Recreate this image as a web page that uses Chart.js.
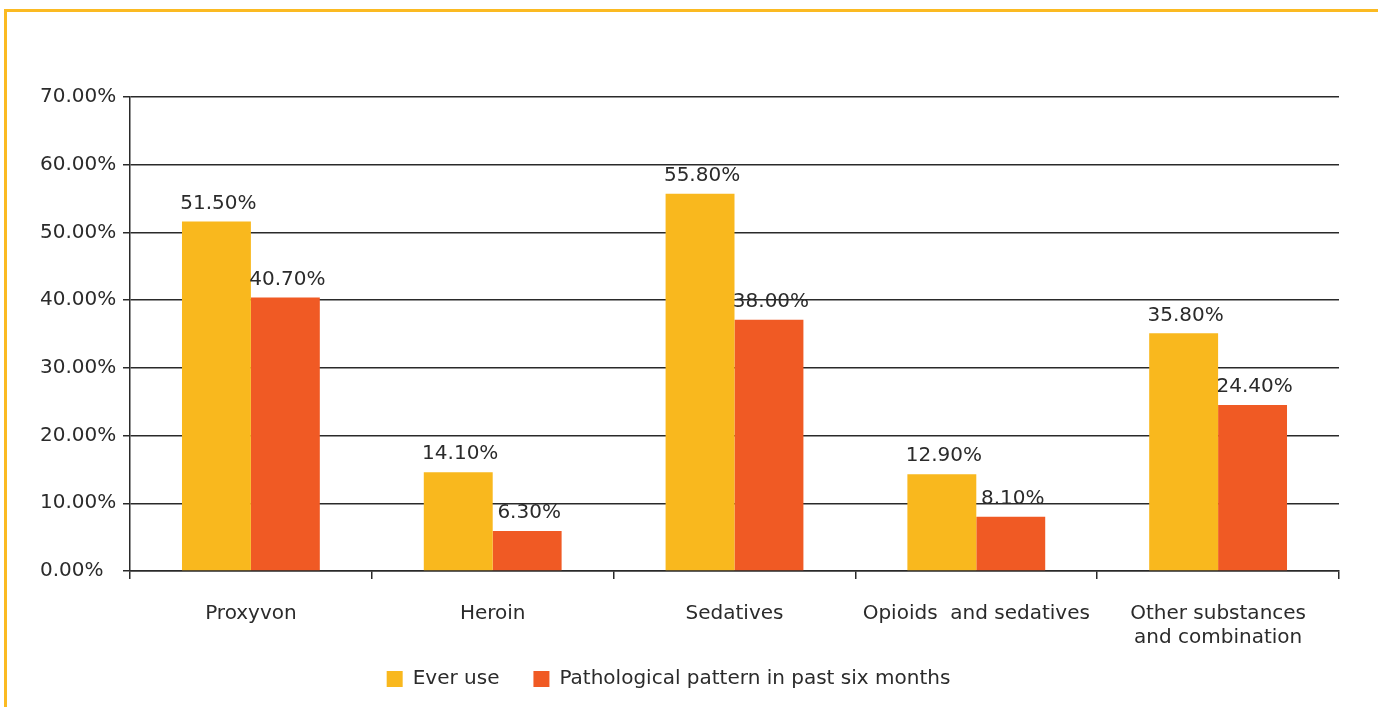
<!DOCTYPE html>
<html>
<head>
<meta charset="utf-8">
<script src="https://cdn.jsdelivr.net/npm/chart.js@4/dist/chart.umd.min.js"></script>
<style>
  html, body { margin: 0; padding: 0; background: #fff; width: 1378px; height: 707px; overflow: hidden; }
  #frame { position: absolute; left: 4px; top: 9px; width: 1400px; height: 720px; border-top: 3px solid #FBBA22; border-left: 3px solid #FBBA22; }
  #c { position: absolute; left: 0; top: 0; }
</style>
</head>
<body>
<div id="frame"></div>
<canvas id="c" width="1340" height="707"></canvas>
<script>
const categories = ['Proxyvon', 'Heroin', 'Sedatives', 'Opioids  and sedatives', ['Other substances', 'and combination']];
const seriesNames = ['Ever use', 'Pathological pattern in past six months'];
const everUse = [51.6, 14.6, 55.7, 14.3, 35.1];
const pathological = [40.4, 5.9, 37.1, 8.0, 24.5];
const everUseLabels = ['51.50%', '14.10%', '55.80%', '12.90%', '35.80%'];
const pathologicalLabels = ['40.70%', '6.30%', '38.00%', '8.10%', '24.40%'];
const yTicks = [0, 10, 20, 30, 40, 50, 60, 70];

const FONT = 'DejaVu Sans';
const FS = 20;

const valueLabels = {
  id: 'valueLabels',
  afterDatasetsDraw(chart) {
    const ctx = chart.ctx;
    ctx.save();
    ctx.font = FS + 'px "' + FONT + '"';
    ctx.fillStyle = '#2b2b2b';
    ctx.textAlign = 'center';
    ctx.textBaseline = 'middle';
    chart.data.datasets.forEach((ds, di) => {
      const meta = chart.getDatasetMeta(di);
      meta.data.forEach((bar, i) => {
        ctx.fillText(ds.valueLabels[i], bar.x + 2, bar.y - 18);
      });
    });
    ctx.restore();
  }
};

// move the legend up toward the axis labels and a little to the left
const legendShift = {
  id: 'legendShift',
  afterLayout(chart) {
    const lg = chart.legend;
    if (lg) { lg.top -= 15; lg.bottom -= 15; lg.left -= 21; lg.right -= 21; }
  }
};

new Chart(document.getElementById('c'), {
  type: 'bar',
  data: {
    labels: categories,
    datasets: [
      { label: seriesNames[0], data: everUse, valueLabels: everUseLabels, backgroundColor: '#F9B81E', borderWidth: 0 },
      { label: seriesNames[1], data: pathological, valueLabels: pathologicalLabels, backgroundColor: '#F05A24', borderWidth: 0 }
    ]
  },
  options: {
    responsive: false,
    animation: false,
    layout: { padding: { top: 97, right: 1, left: 40, bottom: -7 } },
    datasets: { bar: { categoryPercentage: 0.57, barPercentage: 1.0 } },
    plugins: {
      legend: {
        position: 'bottom',
        labels: {
          font: { family: FONT, size: FS },
          color: '#2b2b2b',
          boxWidth: 16,
          boxHeight: 16,
          padding: 34
        }
      },
      tooltip: { enabled: false }
    },
    scales: {
      x: {
        grid: { drawOnChartArea: false, drawTicks: true, tickLength: 8, color: '#2a2a2a', lineWidth: 1.5, offset: true },
        border: { color: '#2a2a2a', width: 1.5 },
        ticks: { font: { family: FONT, size: FS }, color: '#2b2b2b', padding: 23, maxRotation: 0, autoSkip: false },
        afterFit(scale) { scale.height = 79; }
      },
      y: {
        min: 0, max: 70,
        afterBuildTicks(scale) { scale.ticks = yTicks.map(v => ({ value: v })); },
        grid: { color: '#2a2a2a', lineWidth: 1.5, tickLength: 7 },
        border: { color: '#2a2a2a', width: 1.5 },
        ticks: {
          font: { family: FONT, size: FS }, color: '#2b2b2b', padding: 8, crossAlign: 'far',
          callback: v => v.toFixed(2) + '%'
        },
        afterFit(scale) { scale.width = 90; }
      }
    }
  },
  plugins: [valueLabels, legendShift]
});
</script>
</body>
</html>
